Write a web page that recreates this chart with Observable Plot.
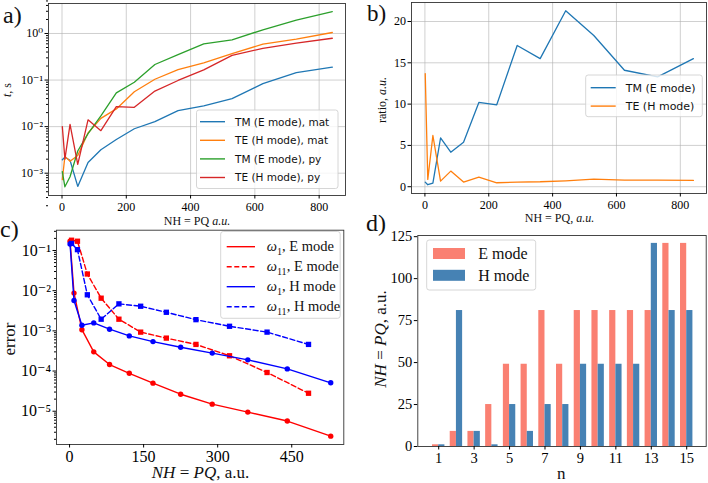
<!DOCTYPE html>
<html>
<head>
<meta charset="utf-8">
<script src="https://cdn.jsdelivr.net/npm/d3@7"></script>
<script src="https://cdn.jsdelivr.net/npm/@observablehq/plot@0.6"></script>
<style>
  html, body { margin: 0; padding: 0; background: #fff; }
  #fig { position: relative; width: 708px; height: 483px; overflow: hidden; background: #fff; }
  .panel { position: absolute; }
  .panel svg { display: block; max-width: none; }
  #overlay { position: absolute; left: 0; top: 0; pointer-events: none; }
</style>
</head>
<body>
<div id="fig"></div>
<script>
// ---- (a), (b): computation time vs. number of harmonics -------------------
const NH = [1, 9, 25, 49, 81, 121, 169, 225, 289, 361, 441, 529, 625, 729, 841];
const tmMat = [1.94e-3, 2.2e-3, 1.9e-3, 5.2e-4, 1.7e-3, 3.2e-3, 5.3e-3, 9.0e-3, 1.28e-2, 2.2e-2, 2.8e-2, 4.0e-2, 8.4e-2, 0.145, 0.19];
const teMat = [7.3e-4, 2.3e-3, 1.8e-3, 2.4e-3, 7.3e-3, 1.5e-2, 2.4e-2, 5.6e-2, 0.104, 0.168, 0.235, 0.37, 0.59, 0.76, 1.05];
const tmPy  = [1.08e-3, 5.1e-4, 8.4e-4, 3.0e-3, 7.1e-3, 1.7e-2, 5.3e-2, 9.0e-2, 0.216, 0.35, 0.60, 0.73, 1.2, 1.93, 2.96];
const tePy  = [1.0e-2, 2.0e-3, 1.12e-2, 1.55e-3, 1.4e-2, 8.2e-3, 2.7e-2, 2.6e-2, 5.8e-2, 9.8e-2, 0.166, 0.34, 0.48, 0.62, 0.79];
const ratioTM = [0.56, 0.24, 0.44, 5.9, 4.18, 5.38, 10.2, 9.92, 17.1, 15.5, 21.3, 18.3, 14.1, 13.3, 15.5];
const ratioTE = [13.7, 0.88, 6.2, 0.68, 1.89, 0.56, 1.16, 0.48, 0.56, 0.6, 0.72, 0.92, 0.8, 0.8, 0.76];

// ---- (c): eigenvalue error vs. number of harmonics ------------------------
const NHodd  = [1, 9, 25, 49, 81, 121, 169, 225, 289, 361, 441, 529];
const errE1  = [0.17, 8.7e-3, 1.07e-3, 3.0e-4, 1.45e-4, 8.8e-5, 5.0e-5, 2.65e-5, 1.5e-5, 9.5e-6, 5.7e-6, 2.4e-6];
const errH1  = [0.145, 5.7e-3, 1.38e-3, 1.58e-3, 1.1e-3, 7.5e-4, 5.4e-4, 3.9e-4, 2.8e-4, 1.9e-4, 1.13e-4, 5.1e-5];
const NHeven = [4, 16, 36, 64, 100, 144, 196, 256, 324, 400, 484];
const errE11 = [0.18, 0.17, 2.6e-2, 6.5e-3, 1.95e-3, 9.3e-4, 6.6e-4, 4.6e-4, 2.4e-4, 9.2e-5, 2.8e-5];
const errH11 = [0.15, 0.105, 7.9e-3, 1.95e-3, 4.7e-3, 4.1e-3, 2.9e-3, 1.9e-3, 1.3e-3, 9.3e-4, 4.6e-4];

// ---- (d): harmonics needed per eigenmode ----------------------------------
const modeN = [1, 2, 3, 4, 5, 6, 7, 8, 9, 10, 11, 12, 13, 14, 15];
const nhE = [1, 9, 9, 25, 49, 49, 81, 49, 81, 81, 81, 81, 81, 121, 121];
const nhH = [1, 81, 9, 1, 25, 9, 25, 25, 49, 49, 49, 49, 121, 81, 81];

// tick values
const ticksA_x = [0, 200, 400, 600, 800];
const ticksA_y = [1e-3, 1e-2, 1e-1, 1];
const ticksB_y = [0, 5, 10, 15, 20];
const ticksC_x = [0, 150, 300, 450];
const ticksC_y = [1e-5, 1e-4, 1e-3, 1e-2, 1e-1];
const ticksD_x = [1, 3, 5, 7, 9, 11, 13, 15];
const ticksD_y = [0, 25, 50, 75, 100, 125];

const C = {blue: "#1f77b4", orange: "#ff7f0e", green: "#2ca02c", red: "#d62728"};
const SERIF = "'Liberation Serif', 'DejaVu Serif', serif";
const SANS = "'DejaVu Sans', sans-serif";

const supMap = {"-": "\u207b", "0": "\u2070", "1": "\u00b9", "2": "\u00b2", "3": "\u00b3", "4": "\u2074", "5": "\u2075", "6": "\u2076", "7": "\u2077", "8": "\u2078", "9": "\u2079"};
const pow10 = v => "10" + String(Math.round(Math.log10(v))).split("").map(c => supMap[c]).join("");
const minorLog = (lo, hi) => d3.range(lo, hi).flatMap(e => d3.range(2, 10).map(k => k * 10 ** e));

const fig = document.getElementById("fig");
function place(svg, left, top, w) {
  const div = document.createElement("div");
  div.className = "panel";
  div.style.left = left + "px";
  div.style.top = top + "px";
  div.style.width = w + "px";
  div.appendChild(svg);
  fig.appendChild(div);
}
const series = (xs, ys) => xs.map((x, i) => ({x, y: ys[i]}));
const gridStyle = {stroke: "#b0b0b0", strokeOpacity: 0.75, strokeWidth: 0.8};
const frameStyle = {stroke: "#333", strokeWidth: 0.9};

// (a)
place(Plot.plot({
  width: 354, height: 240,
  marginLeft: 48, marginRight: 9, marginTop: 3, marginBottom: 45,
  style: {fontFamily: SERIF, fontSize: "12px", background: "transparent", overflow: "visible"},
  x: {domain: [-42, 882], label: null},
  y: {type: "log", domain: [10 ** -3.479, 10 ** 0.644], label: null},
  marks: [
    Plot.gridX({ticks: ticksA_x, ...gridStyle}),
    Plot.gridY({ticks: ticksA_y, ...gridStyle}),
    Plot.line(series(NH, tmMat), {x: "x", y: "y", stroke: C.blue, strokeWidth: 1.3}),
    Plot.line(series(NH, teMat), {x: "x", y: "y", stroke: C.orange, strokeWidth: 1.3}),
    Plot.line(series(NH, tmPy), {x: "x", y: "y", stroke: C.green, strokeWidth: 1.3}),
    Plot.line(series(NH, tePy), {x: "x", y: "y", stroke: C.red, strokeWidth: 1.3}),
    Plot.frame(frameStyle),
    Plot.axisX({ticks: ticksA_x, tickSize: 3.5, tickPadding: 3, label: null}),
    Plot.axisY({ticks: ticksA_y, tickFormat: pow10, tickSize: 3.5, tickPadding: 2, label: null}),
    Plot.axisY({ticks: minorLog(-4, 1), tickFormat: () => "", tickSize: 2, label: null})
  ]
}), 0, 0, 354);

// (b)
place(Plot.plot({
  width: 354, height: 240,
  marginLeft: 57, marginRight: 2, marginTop: 2, marginBottom: 47,
  style: {fontFamily: SERIF, fontSize: "12px", background: "transparent", overflow: "visible"},
  x: {domain: [-42, 882], label: null},
  y: {domain: [-0.82, 22.3], label: null},
  marks: [
    Plot.gridX({ticks: ticksA_x, ...gridStyle}),
    Plot.gridY({ticks: ticksB_y, ...gridStyle}),
    Plot.line(series(NH, ratioTM), {x: "x", y: "y", stroke: C.blue, strokeWidth: 1.3}),
    Plot.line(series(NH, ratioTE), {x: "x", y: "y", stroke: C.orange, strokeWidth: 1.3}),
    Plot.frame(frameStyle),
    Plot.axisX({ticks: ticksA_x, tickSize: 3.5, tickPadding: 3, label: null}),
    Plot.axisY({ticks: ticksB_y, tickSize: 3.5, tickPadding: 2, label: null})
  ]
}), 354, 0, 354);

// (c)
const dash = "5,2.6";
place(Plot.plot({
  width: 354, height: 258,
  marginLeft: 56, marginRight: 10.7, marginTop: 4.7, marginBottom: 39,
  style: {fontFamily: SERIF, fontSize: "16px", background: "transparent", overflow: "visible"},
  x: {domain: [-26.45, 555.45], label: null},
  y: {type: "log", domain: [10 ** -5.828, 10 ** -0.495], label: null},
  marks: [
    Plot.line(series(NHodd, errE1), {x: "x", y: "y", stroke: "red", strokeWidth: 1.4}),
    Plot.dot(series(NHodd, errE1), {x: "x", y: "y", fill: "red", r: 2.7}),
    Plot.line(series(NHeven, errE11), {x: "x", y: "y", stroke: "red", strokeWidth: 1.4, strokeDasharray: dash}),
    Plot.dot(series(NHeven, errE11), {x: "x", y: "y", fill: "red", symbol: "square", r: 3}),
    Plot.line(series(NHodd, errH1), {x: "x", y: "y", stroke: "blue", strokeWidth: 1.4}),
    Plot.dot(series(NHodd, errH1), {x: "x", y: "y", fill: "blue", r: 2.7}),
    Plot.line(series(NHeven, errH11), {x: "x", y: "y", stroke: "blue", strokeWidth: 1.4, strokeDasharray: dash}),
    Plot.dot(series(NHeven, errH11), {x: "x", y: "y", fill: "blue", symbol: "square", r: 3}),
    Plot.frame(frameStyle),
    Plot.axisX({ticks: ticksC_x, tickSize: 3.5, tickPadding: 3, label: null}),
    Plot.axisY({ticks: ticksC_y, tickFormat: pow10, tickSize: 3.5, tickPadding: 2, label: null}),
    Plot.axisY({ticks: minorLog(-6, 0).filter(v => v > 10 ** -5.828 && v < 10 ** -0.495), tickFormat: () => "", tickSize: 2, label: null})
  ]
}), 0, 225, 354);

// (d)
const bars = modeN.map((n, i) => ({n, e: nhE[i], h: nhH[i]}));
place(Plot.plot({
  width: 354, height: 258,
  marginLeft: 63.3, marginRight: 2.3, marginTop: 10, marginBottom: 37,
  style: {fontFamily: SERIF, fontSize: "14.5px", background: "transparent", overflow: "visible"},
  x: {domain: [-0.18, 16.1], label: null},
  y: {domain: [0, 125.7], label: null},
  marks: [
    Plot.rect(bars, {x1: d => d.n - 0.35, x2: d => d.n, y1: () => 0, y2: "e", fill: "salmon"}),
    Plot.rect(bars, {x1: d => d.n, x2: d => d.n + 0.35, y1: () => 0, y2: "h", fill: "steelblue"}),
    Plot.frame(frameStyle),
    Plot.axisX({ticks: ticksD_x, tickSize: 3.5, tickPadding: 3, label: null}),
    Plot.axisY({ticks: ticksD_y, tickSize: 3.5, tickPadding: 2, label: null})
  ]
}), 354, 225, 354);

// ---- labels and legends ----------------------------------------------------
const ov = d3.select(fig).append("svg").attr("id", "overlay")
  .attr("width", 708).attr("height", 483);

function label(x, y, parts, {size = 12, family = SERIF, anchor = "start", rotate = false} = {}) {
  const t = ov.append("text")
    .attr("font-family", family).attr("font-size", size)
    .attr("text-anchor", anchor).attr("fill", "#111");
  if (rotate) t.attr("transform", `translate(${x},${y}) rotate(-90)`);
  else t.attr("x", x).attr("y", y);
  let prevSub = false;
  for (const p of parts) {
    const [s, italic, sub] = Array.isArray(p) ? p : [p, false, false];
    const sp = t.append("tspan").text(s);
    if (italic) sp.attr("font-style", "italic");
    if (sub) sp.attr("font-size", size * 0.7).attr("dy", size * 0.25);
    else if (prevSub) sp.attr("dy", -size * 0.25);
    prevSub = !!sub;
  }
  return t;
}

// panel letters
label(3, 22.5, ["a)"], {size: 24});
label(367, 21, ["b)"], {size: 23});
label(0, 236.5, ["c)"], {size: 24});
label(366, 230.5, ["d)"], {size: 24});

// axis titles
label(11, 90, [["t", true], ", s"], {size: 12, anchor: "middle", rotate: true});
label(197, 224.5, ["NH = PQ  ", ["a.u.", true]], {size: 12, anchor: "middle"});
label(386, 100, ["ratio, ", ["a.u.", true]], {size: 12, anchor: "middle", rotate: true});
label(559.5, 222, ["NH = PQ, ", ["a.u.", true]], {size: 12, anchor: "middle"});
label(15, 339, ["error"], {size: 17, anchor: "middle", rotate: true});
label(200.5, 478, [["NH", true], " = ", ["PQ", true], ", a.u."], {size: 17, anchor: "middle"});
label(386, 339, [["NH", true], " = ", ["PQ", true], ", a.u."], {size: 17, anchor: "middle", rotate: true});
label(561.3, 479, ["n"], {size: 17, anchor: "middle"});

function legendBox(x, y, w, h) {
  ov.append("rect").attr("x", x).attr("y", y).attr("width", w).attr("height", h)
    .attr("rx", 2.5).attr("fill", "#fff").attr("fill-opacity", 0.8)
    .attr("stroke", "#cccccc").attr("stroke-width", 0.8);
}
function legendLine(x1, x2, y, color, dashed) {
  const l = ov.append("line").attr("x1", x1).attr("x2", x2).attr("y1", y).attr("y2", y)
    .attr("stroke", color).attr("stroke-width", 1.4);
  if (dashed) l.attr("stroke-dasharray", dash);
}

// legend (a)
legendBox(196.5, 110, 141.5, 78.5);
[["TM (E mode), mat", C.blue], ["TE (H mode), mat", C.orange], ["TM (E mode), py", C.green], ["TE (H mode), py", C.red]]
  .forEach(([s, c], i) => {
    const y = 121.7 + i * 18.6;
    legendLine(200, 225, y, c);
    label(235, y + 3.8, [s], {size: 10.5, family: SANS});
  });

// legend (b)
legendBox(585.7, 75, 116.6, 41.7);
[["TM (E mode)", C.blue], ["TE (H mode)", C.orange]].forEach(([s, c], i) => {
  const y = 87.7 + i * 18.4;
  legendLine(590.7, 615.7, y, c);
  label(625.7, y + 4, [s], {size: 11, family: SANS});
});

// legend (c)
legendBox(220.7, 231.5, 119.5, 86.8);
[["1", "red", false], ["11", "red", true], ["1", "blue", false], ["11", "blue", true]].forEach(([k, c, d], i) => {
  const y = 246.7 + i * 20;
  legendLine(226.7, 255, y, c, d);
  label(266.7, y + 4.5, [["\u03c9", true], [k, false, true], ", " + (c === "red" ? "E" : "H") + " mode"], {size: 14.5});
});

// legend (d)
legendBox(426.7, 240, 109, 50);
[["E mode", "salmon"], ["H mode", "steelblue"]].forEach(([s, c], i) => {
  const y = 248 + i * 21.8;
  ov.append("rect").attr("x", 433).attr("y", y).attr("width", 32).attr("height", 11).attr("fill", c);
  label(478.3, y + 11, [s], {size: 16});
});
</script>
</body>
</html>
